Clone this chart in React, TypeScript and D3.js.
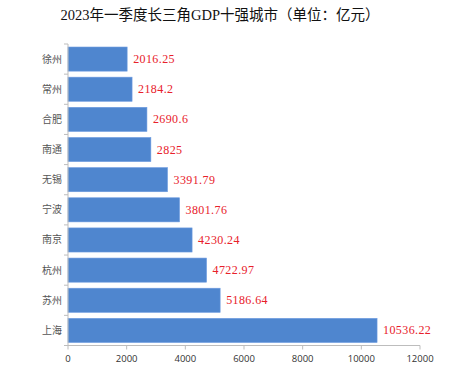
import React from "react";
import * as d3 from "d3";

const cities = ["徐州", "常州", "合肥", "南通", "无锡", "宁波", "南京", "杭州", "苏州", "上海"];
const gdp = [2016.25, 2184.2, 2690.6, 2825, 3391.79, 3801.76, 4230.24, 4722.97, 5186.64, 10536.22];
const valueLabels = ["2016.25", "2184.2", "2690.6", "2825", "3391.79", "3801.76", "4230.24", "4722.97", "5186.64", "10536.22"];
const xTicks = [0, 2000, 4000, 6000, 8000, 10000, 12000];
const title = "2023年一季度长三角GDP十强城市（单位：亿元）";

const W = 474, H = 382;
const left = 68, right = 420, top = 44, bottom = 345.5;

export default function App() {
  const x = d3.scaleLinear().domain([0, 12000]).range([left, right]);
  const y = d3.scaleBand<string>().domain(cities).range([top, bottom]).paddingInner(0.2).paddingOuter(0.1);
  const serif = "'Liberation Serif', 'Noto Sans CJK SC', serif";
  const boundaries = d3.range(cities.length + 1).map(i => top + (bottom - top) * i / cities.length);
  return (
    <svg width={W} height={H} style={{ position: "absolute", left: 0, top: 0, background: "#fff" }}>
      <text x={220} y={20} textAnchor="middle" fontFamily={serif} fontSize={14.5} fill="#111">{title}</text>
      {cities.map((c, i) => (
        <g key={c}>
          <rect x={x(0)} y={y(c)!} width={x(gdp[i]) - x(0)} height={y.bandwidth()} fill="#4f86cf" stroke="#6d9be0" strokeWidth={0.6} />
          <text x={x(gdp[i]) + 6} y={y(c)! + y.bandwidth() / 2} dominantBaseline="central" fontFamily={serif} fontSize={12} letterSpacing={0.4} fill="#e8202a">{valueLabels[i]}</text>
          <text x={left - 6} y={y(c)! + y.bandwidth() / 2} dominantBaseline="central" textAnchor="end" fontFamily={serif} fontSize={10} fill="#555">{c}</text>
        </g>
      ))}
      <line x1={left} x2={left} y1={top} y2={bottom} stroke="#bdbdbd" />
      {boundaries.map((b, i) => (
        <line key={i} x1={left - 4} x2={left} y1={b} y2={b} stroke="#bdbdbd" />
      ))}
      <line x1={left} x2={right} y1={bottom} y2={bottom} stroke="#bdbdbd" />
      {xTicks.map(t => (
        <g key={t}>
          <line x1={x(t)} x2={x(t)} y1={bottom} y2={bottom + 4} stroke="#bdbdbd" />
          <text x={x(t)} y={bottom + 13} textAnchor="middle" dominantBaseline="central" fontFamily="'Open Sans', 'DejaVu Sans', sans-serif" fontSize={9.5} fill="#333">{t}</text>
        </g>
      ))}
    </svg>
  );
}
